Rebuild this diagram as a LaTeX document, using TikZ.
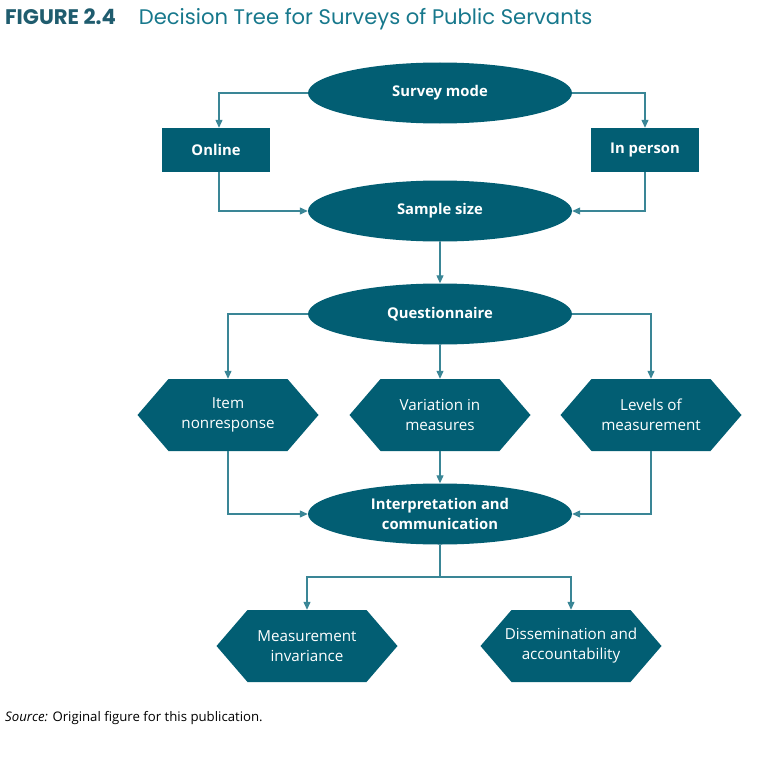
\documentclass[tikz,border=0pt]{standalone}
\usepackage{fontspec}
\setmainfont{Open Sans}
\newfontfamily\titlefont{Poppins}
\usetikzlibrary{shapes.geometric,arrows.meta,calc}
\definecolor{boxfill}{HTML}{025E73}
\definecolor{linecol}{HTML}{3A8696}
\definecolor{titledark}{HTML}{1F5C6E}
\definecolor{titlelight}{HTML}{17788C}
\begin{document}
\begin{tikzpicture}[x=1pt,y=-1pt,
  ell/.style={ellipse,fill=boxfill,text=white,minimum width=264pt,minimum height=61pt,inner sep=0pt,font=\fontsize{14.8}{16}\selectfont\bfseries},
  rbox/.style={rectangle,fill=boxfill,text=white,minimum width=108pt,minimum height=44pt,inner sep=0pt,font=\fontsize{14.8}{16}\selectfont\bfseries},
  hexnode/.style={rectangle,minimum width=181pt,minimum height=72pt,inner sep=0pt,text=white,align=center,
    font=\fontsize{15.2}{20}\selectfont,
    path picture={\fill[boxfill] ([xshift=31pt]path picture bounding box.north west) -- ([xshift=-31pt]path picture bounding box.north east) -- (path picture bounding box.east) -- ([xshift=-31pt]path picture bounding box.south east) -- ([xshift=31pt]path picture bounding box.south west) -- (path picture bounding box.west) -- cycle;}},
  conn/.style={draw=linecol,line width=1.2pt,-{Triangle[length=8pt,width=7pt]}},
  plain/.style={draw=linecol,line width=1.2pt}
]
\useasboundingbox (0,0) rectangle (768,768);
\node[anchor=base west,inner sep=0pt] (title) at (5,25) {\titlefont\fontsize{21.1}{24}\selectfont\textcolor{titledark}{\bfseries FIGURE 2.4}\hspace{23pt}\textcolor{titlelight}{Decision Tree for Surveys of Public Servants}};

\node[ell] (sm) at (440,93) {Survey mode};
\node[rbox] (on) at (216,150) {Online};
\node[rbox] (ip) at (645,150) {In person};
\node[ell] (ss) at (440,211) {Sample size};
\node[ell] (qu) at (440,314) {Questionnaire};
\node[hexnode] (it) at (228,415) {Item\\nonresponse};
\node[hexnode] (va) at (440,415) {Variation in\\measures};
\node[hexnode] (le) at (651,415) {Levels of\\measurement};
\node[ell,align=center,font=\fontsize{14.8}{20}\selectfont\bfseries] (in) at (440,514) {Interpretation and\\communication};
\node[hexnode] (me) at (307,646) {Measurement\\invariance};
\node[hexnode] (di) at (571,646) {Dissemination and\\accountability};

\coordinate (split) at (440,577);

\draw[conn] (sm.west) -| ([xshift=3pt]on.north);
\draw[conn] (sm.east) -| (ip.north);
\draw[conn] ([xshift=3pt]on.south) |- (ss.west);
\draw[conn] (ip.south) |- (ss.east);
\draw[conn] (ss.south) -- (qu.north);
\draw[conn] (qu.west) -| (it.north);
\draw[conn] (qu.east) -| (le.north);
\draw[conn] (qu.south) -- (va.north);
\draw[conn] (it.south) |- (in.west);
\draw[conn] (le.south) |- (in.east);
\draw[conn] (va.south) -- (in.north);
\draw[plain] (in.south) -- (split);
\draw[conn] (split) -| (me.north);
\draw[conn] (split) -| (di.north);

\node[anchor=base west,inner sep=0pt] (src) at (5,721) {\fontsize{13.2}{15}\selectfont\textit{Source:} Original figure for this publication.};
\end{tikzpicture}
\end{document}
